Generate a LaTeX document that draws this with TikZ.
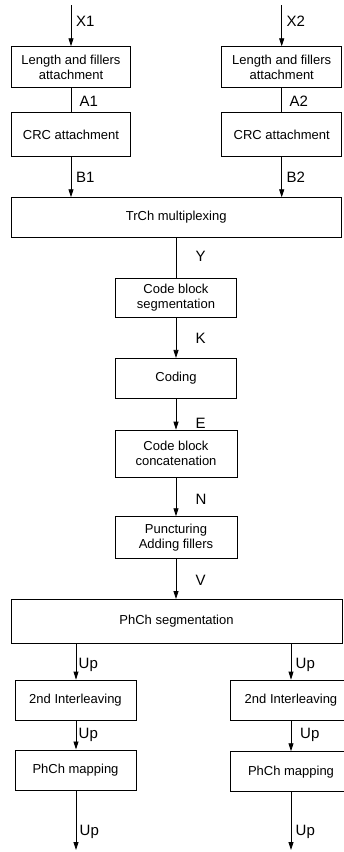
\documentclass[tikz,border=0pt]{standalone}
\usepackage{fontspec}
\setmainfont{Liberation Sans}
\usetikzlibrary{arrows.meta}
\begin{document}
\begin{tikzpicture}[x=1pt,y=-1pt,
  blk/.style={draw, line width=0.8pt, inner sep=0pt, font=\fontsize{13}{15}\selectfont, align=center},
  lbl/.style={font=\fontsize{15}{18}\selectfont, anchor=west, inner sep=0pt},
  arr/.style={-{Triangle[length=8pt,width=5pt]}, line width=0.8pt},
  ln/.style={line width=0.8pt}]
\useasboundingbox (0,0) rectangle (343,852);

% top branches
\node[blk, minimum width=118.3pt, minimum height=40.6pt] (la1) at (71,67) {Length and fillers\\attachment};
\node[blk, minimum width=118.3pt, minimum height=44pt] (lc1) at (71,134.6) {CRC attachment};
\node[blk, minimum width=120pt, minimum height=40.6pt] (ra2) at (281.7,67) {Length and fillers\\attachment};
\node[blk, minimum width=120pt, minimum height=44pt] (rc2) at (281.7,134.6) {CRC attachment};

% central chain
\node[blk, minimum width=330.5pt, minimum height=39.6pt] (trch) at (176.2,217.5) {TrCh multiplexing};
\node[blk, minimum width=121.7pt, minimum height=39pt] (cbs) at (176,297.8) {Code block\\segmentation};
\node[blk, minimum width=121pt, minimum height=40pt] (cod) at (176,378.3) {Coding};
\node[blk, minimum width=122pt, minimum height=47.3pt] (cbc) at (176,453.7) {Code block\\concatenation};
\node[blk, minimum width=122pt, minimum height=41.6pt] (pun) at (176,537.5) {Puncturing\\Adding fillers};
\node[blk, minimum width=331pt, minimum height=44pt] (phs) at (176.5,621.4) {PhCh segmentation};

% bottom branches
\node[blk, minimum width=121pt, minimum height=40pt] (il) at (75.5,700) {2nd Interleaving};
\node[blk, minimum width=121pt, minimum height=40.7pt] (ml) at (75.5,770.3) {PhCh mapping};
\node[blk, minimum width=121pt, minimum height=40pt] (ir) at (291,700) {2nd Interleaving};
\node[blk, minimum width=121pt, minimum height=40pt] (mr) at (291,771.7) {PhCh mapping};

\coordinate (x1in) at (71,5);
\coordinate (x2in) at (281.7,5);
\coordinate (lout) at (76,850);
\coordinate (rout) at (291,850);

% connectors
\draw[arr] (x1in) -- (la1.north);
\draw[ln] (la1.south) -- (lc1.north);
\draw[arr] (lc1.south) -- (lc1.south |- trch.north);
\draw[arr] (x2in) -- (ra2.north);
\draw[ln] (ra2.south) -- (rc2.north);
\draw[arr] (rc2.south) -- (rc2.south |- trch.north);

\draw[ln] (cbs.north |- trch.south) -- (cbs.north);
\draw[arr] (cbs.south) -- (cod.north);
\draw[arr] (cod.south) -- (cbc.north);
\draw[arr] (cbc.south) -- (pun.north);
\draw[arr] (pun.south) -- (pun.south |- phs.north);

\draw[arr] (lout |- phs.south) -- (lout |- il.north);
\draw[arr] (lout |- il.south) -- (lout |- ml.north);
\draw[arr] (lout |- ml.south) -- (lout);
\draw[arr] (rout |- phs.south) -- (ir.north);
\draw[arr] (ir.south) -- (mr.north);
\draw[arr] (mr.south) -- (rout);

% labels
\node[lbl] (tx1) at (76,21) {X1};
\node[lbl] (ta1) at (79.5,101) {A1};
\node[lbl] (tb1) at (76,177.7) {B1};
\node[lbl] (tx2) at (286.5,21) {X2};
\node[lbl] (ta2) at (289.5,101) {A2};
\node[lbl] (tb2) at (286.5,177.7) {B2};
\node[lbl] (ty) at (195.5,256.7) {Y};
\node[lbl] (tk) at (195.5,338) {K};
\node[lbl] (te) at (195.5,423.3) {E};
\node[lbl] (tn) at (195.5,499.3) {N};
\node[lbl] (tv) at (195.5,580) {V};
\node[lbl] (tu1) at (78.5,665) {Up};
\node[lbl] (tu2) at (78.5,735) {Up};
\node[lbl] (tu3) at (79.5,831.7) {Up};
\node[lbl] (tu4) at (295.5,665) {Up};
\node[lbl] (tu5) at (300,735) {Up};
\node[lbl] (tu6) at (295.5,831.7) {Up};
\end{tikzpicture}
\end{document}
